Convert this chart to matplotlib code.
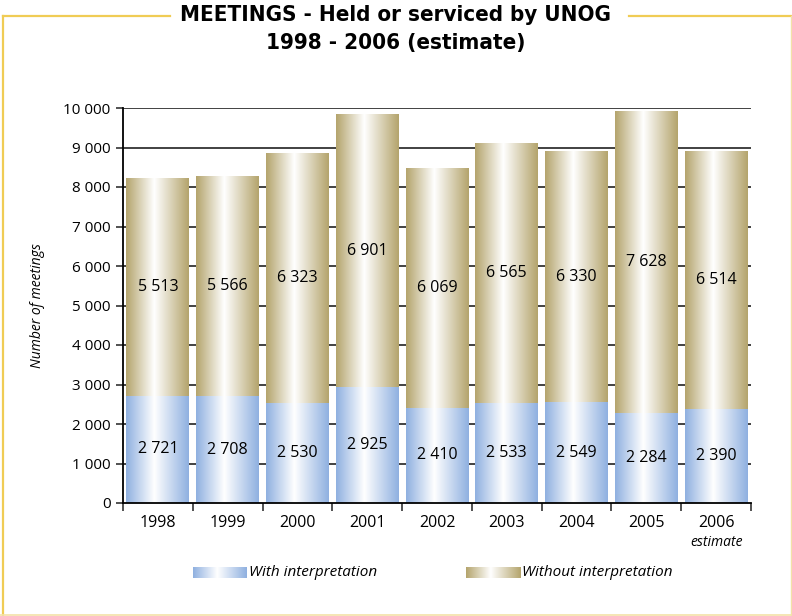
import numpy as np
import matplotlib
matplotlib.use("Agg")
from matplotlib import pyplot as plt
from matplotlib.colors import LinearSegmentedColormap
from matplotlib.lines import Line2D

years = ["1998", "1999", "2000", "2001", "2002", "2003", "2004", "2005", "2006"]
with_interp = [2721, 2708, 2530, 2925, 2410, 2533, 2549, 2284, 2390]
without_interp = [5513, 5566, 6323, 6901, 6069, 6565, 6330, 7628, 6514]
yticks = [0, 1000, 2000, 3000, 4000, 5000, 6000, 7000, 8000, 9000, 10000]

plt.rcParams['font.family'] = ['Open Sans', 'DejaVu Sans']


def fmt(v):
    return "{:,}".format(v).replace(",", " ")


blue_cm = LinearSegmentedColormap.from_list(
    "blue", [(0, "#8fb0e0"), (0.45, "#ffffff"), (1, "#8fb0e0")])
tan_cm = LinearSegmentedColormap.from_list(
    "tan", [(0, "#b4a46c"), (0.45, "#ffffff"), (1, "#b4a46c")])
grad = np.linspace(0, 1, 256).reshape(1, -1)

fig = plt.figure(figsize=(7.92, 6.16), dpi=100)
ax = fig.add_axes([123 / 792, 1 - 503 / 616, (751 - 123) / 792, (503 - 108) / 616])

x = np.arange(len(years))
width = 0.9
bars_low = ax.bar(x, with_interp, width, color="none")
bars_high = ax.bar(x, without_interp, width, bottom=with_interp, color="none")

for bars, cm in ((bars_low, blue_cm), (bars_high, tan_cm)):
    for b in bars:
        x0, y0 = b.get_x(), b.get_y()
        ax.imshow(grad, cmap=cm, aspect="auto", zorder=2,
                  extent=(x0, x0 + b.get_width(), y0, y0 + b.get_height()))

for i in range(len(years)):
    ax.text(x[i], with_interp[i] / 2, fmt(with_interp[i]),
            ha="center", va="center", fontsize=11.5, zorder=3)
    ax.text(x[i], with_interp[i] + without_interp[i] / 2, fmt(without_interp[i]),
            ha="center", va="center", fontsize=11.5, zorder=3)

ax.set_xlim(-0.5, len(years) - 0.5)
ax.set_ylim(0, 10000)
ax.set_yticks(yticks)
ax.set_yticklabels([fmt(v) for v in yticks], fontsize=11)
for v in yticks[1:]:
    ax.axhline(v, color="#333333", lw=1.3, zorder=1)

ax.set_xticks(np.arange(len(years) + 1) - 0.5)
ax.set_xticklabels([])
ax.tick_params(axis="x", length=6, width=1.2, color="#333333")
ax.tick_params(axis="y", length=5, width=1.2, color="#333333", pad=4)
for i, yr in enumerate(years):
    ax.text(x[i], -0.03, yr, transform=ax.get_xaxis_transform(),
            ha="center", va="top", fontsize=11.5)
ax.text(x[-1], -0.082, "estimate", transform=ax.get_xaxis_transform(),
        ha="center", va="top", fontsize=10, style="italic")

for s in ("top", "right"):
    ax.spines[s].set_visible(False)
ax.spines["left"].set_linewidth(1.3)
ax.spines["bottom"].set_linewidth(1.3)
ax.set_ylabel("Number of meetings", fontsize=10, style="italic", labelpad=13)

# title and frame
for ty, txt in ((15, "MEETINGS - Held or serviced by UNOG"),
                (43, "1998 - 2006 (estimate)")):
    fig.text(0.5, 1 - ty / 616, txt, ha="center", va="center", fontsize=16,
             fontweight="bold", fontstretch="condensed",
             family=["DejaVu Sans"])
fy = 1 - 16 / 616
fig.add_artist(Line2D([3 / 792, 170 / 792], [fy, fy], color="#f0cc55", lw=1.6))
fig.add_artist(Line2D([629 / 792, 1], [fy, fy], color="#f0cc55", lw=1.6))
fig.add_artist(Line2D([3 / 792, 3 / 792], [fy, 0], color="#f0cc55", lw=1.6))
fig.add_artist(Line2D([0, 1], [1.5 / 616, 1.5 / 616], color="#f3e2a8", lw=1.2))
fig.add_artist(Line2D([790.5 / 792, 790.5 / 792], [fy, 0], color="#f3e2a8", lw=1.0))

# legend
for lx, cm, label in ((193, blue_cm, "With interpretation"),
                      (466, tan_cm, "Without interpretation")):
    lax = fig.add_axes([lx / 792, 1 - 578 / 616, 54 / 792, 11 / 616])
    lax.imshow(grad, cmap=cm, aspect="auto")
    lax.axis("off")
    fig.text((lx + 56) / 792, 1 - 572 / 616, label, ha="left", va="center",
             fontsize=11, style="italic")

fig.savefig("out.png", dpi=100)
